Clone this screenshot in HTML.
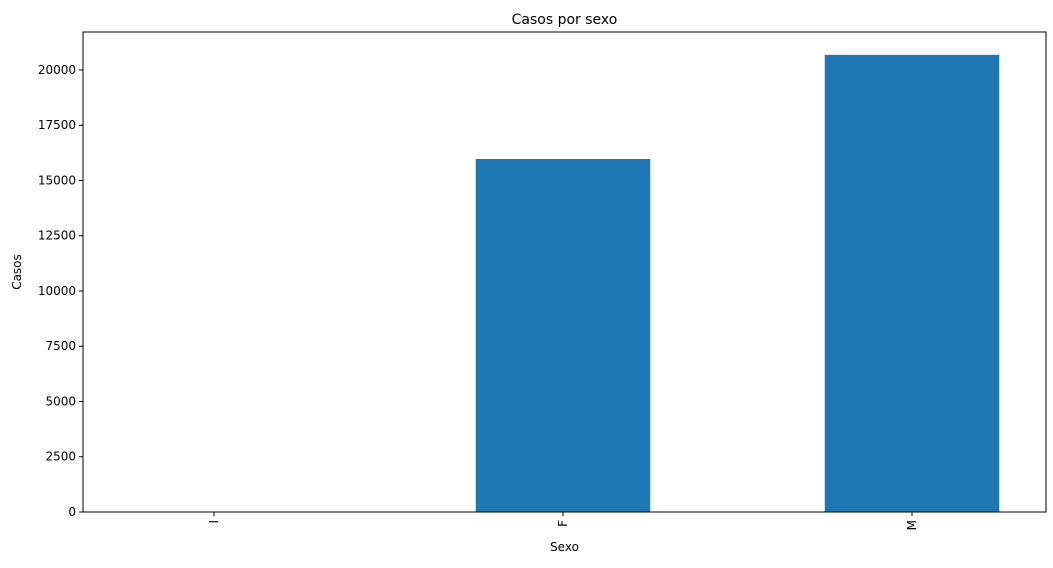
<!DOCTYPE html>
<html><head><meta charset="utf-8"><style>
body{margin:0;background:#fff;font-family:"Liberation Sans","DejaVu Sans",sans-serif;}
svg text{font-family:"DejaVu Sans","Liberation Sans",sans-serif;}
</style></head><body>
<svg id="c" width="1053" height="563" xmlns="http://www.w3.org/2000/svg"></svg>
<script>
const categories=["I","F","M"];
const values=[0,15973,20685];
const yTicks=[0,2500,5000,7500,10000,12500,15000,17500,20000];
const L=83,R=1046,T=32,B=512;
const yMax=21719,xMin=-0.3754,xMax=2.384;
const ys=v=>B-(v/yMax)*(B-T);
const xs=i=>L+(i-xMin)/(xMax-xMin)*(R-L);
const bw=0.5*(R-L)/(xMax-xMin);
const svg=document.getElementById('c');
const NS="http://www.w3.org/2000/svg";
function mk(tag,attrs,txt){const e=document.createElementNS(NS,tag);for(const k in attrs)e.setAttribute(k,attrs[k]);if(txt!==undefined)e.textContent=txt;svg.appendChild(e);return e;}
values.forEach((v,i)=>{
  const r=mk('rect',{x:xs(i)-bw/2,y:ys(v),width:bw,height:B-ys(v),fill:'#1f77b4'});
  
  
});
const frame=mk('rect',{x:L,y:T,width:R-L,height:B-T,fill:'none',stroke:'#000','stroke-width':1});


yTicks.forEach(t=>{
  const y=ys(t);
  mk('line',{x1:L-4,x2:L,y1:y,y2:y,stroke:'#000'});
  const tx=mk('text',{x:L-7,y:y+4,'text-anchor':'end','font-size':12,fill:'#000'},String(t));
  
  
});
categories.forEach((c,i)=>{
  const x=xs(i);
  mk('line',{x1:x,x2:x,y1:B,y2:B+4,stroke:'#000'});
  const tx=mk('text',{x:x+4,y:B+8,'text-anchor':'end','font-size':12,fill:'#000',transform:`rotate(-90 ${x+4} ${B+8})`},c);
  
  
});
const title=mk('text',{x:(L+R)/2,y:24,'text-anchor':'middle','font-size':14,fill:'#000'},'Casos por sexo');


const xl=mk('text',{x:(L+R)/2,y:551,'text-anchor':'middle','font-size':12,fill:'#000'},'Sexo');


const yl=mk('text',{x:21,y:(T+B)/2,'text-anchor':'middle','font-size':12,fill:'#000',transform:`rotate(-90 21 ${(T+B)/2})`},'Casos');


</script>
</body></html>
